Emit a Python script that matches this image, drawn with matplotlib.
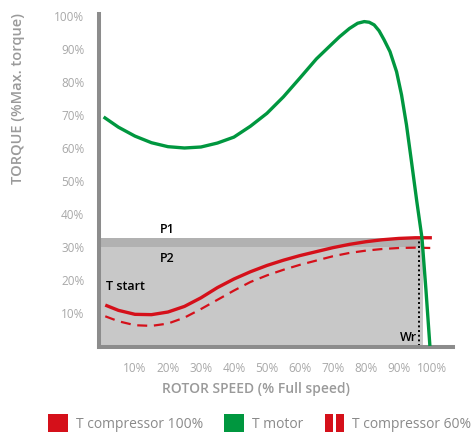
import numpy as np
import matplotlib.pyplot as plt
from matplotlib.patches import Rectangle

plt.rcParams['font.family'] = ['Open Sans', 'DejaVu Sans']

# Données (vitesse rotor en %, couple en % du max)
speed_c100 = [1, 5, 10, 15, 20, 25, 30, 35, 40, 45, 50, 55, 60, 65, 70, 75, 80, 85, 90, 95, 100]
torque_c100 = [12.4, 10.8, 9.6, 9.5, 10.3, 12.0, 14.6, 17.7, 20.3, 22.5, 24.4, 26.0,
               27.4, 28.6, 29.8, 30.8, 31.6, 32.2, 32.6, 32.8, 32.8]

speed_c60 = [1, 5, 10, 15, 20, 25, 30, 35, 40, 45, 50, 55, 60, 65, 70, 75, 80, 85, 90, 95, 99.5]
torque_c60 = [9.0, 7.5, 6.3, 6.1, 6.8, 8.6, 11.2, 14.0, 16.8, 19.4, 21.4, 23.1,
              24.6, 25.9, 27.2, 28.2, 28.9, 29.4, 29.7, 29.8, 29.7]

speed_motor = [0.5, 5, 10, 15, 20, 25, 30, 35, 40, 45, 50, 55, 60, 65, 70, 72, 75, 77.5,
               79.5, 81, 82.5, 84, 85.5, 87.3, 89.3, 90.8, 92.3, 93.8, 95.4, 97, 98.2, 99.4]
torque_motor = [69.4, 66.3, 63.6, 61.6, 60.4, 60.0, 60.3, 61.5, 63.3, 66.6, 70.5, 75.5,
                81.2, 87.0, 91.8, 93.7, 96.2, 97.8, 98.3, 98.1, 97.3, 95.5, 92.8, 89.2,
                83.1, 76.1, 67.0, 56.0, 44.0, 32.7, 17.0, 0.0]

p1 = 32.7   # haut de la bande P1
p2 = 30.0   # haut de la zone P2
wr = 96.0   # vitesse de fonctionnement
zone_end = 97.3

ticks = [10, 20, 30, 40, 50, 60, 70, 80, 90, 100]
tick_labels = [f"{t}%" for t in ticks]

RED = '#d5101a'
GREEN = '#00973f'
AXIS_GREY = '#8c8c8c'

fig = plt.figure(figsize=(4.72, 4.32), dpi=100)
ax = fig.add_axes([99 / 472, 1 - 347 / 432, 354 / 472, 333 / 432])
ax.set_xlim(-0.9, 106.4)
ax.set_ylim(-0.3, 100.6)

# zones grises
ax.fill_between([-1, zone_end], 0, p2, color='#c8c8c8', lw=0, zorder=1)
ax.fill_between([-1, zone_end], p2, p1, color='#b1b1b1', lw=0, zorder=1)

# courbes
ax.plot(speed_motor, torque_motor, color=GREEN, lw=2.4, zorder=4, solid_capstyle='butt')
ax.plot(speed_c100, torque_c100, color=RED, lw=2.4, zorder=3, solid_capstyle='butt')
ax.plot(speed_c60, torque_c60, color=RED, lw=1.6, ls=(0, (4.5, 3)), zorder=3)
ax.plot([wr, wr], [0, p1], color='black', lw=1.4, ls=(0, (1, 1.4)), zorder=2)

# annotations
ax.text(17.6, 35.2, "P1", fontsize=9, fontweight='semibold', va='center', ha='left')
ax.text(17.6, 26.4, "P2", fontsize=9, fontweight='semibold', va='center', ha='left')
ax.text(1.2, 17.9, "T start", fontsize=9, fontweight='semibold', va='center', ha='left')
ax.text(95.5, 2.6, "Wr", fontsize=9, fontweight='semibold', va='center', ha='right')

# axes
for s in ['top', 'right']:
    ax.spines[s].set_visible(False)
for s in ['left', 'bottom']:
    ax.spines[s].set_color(AXIS_GREY)
    ax.spines[s].set_linewidth(2.9)
ax.set_xticks(ticks)
ax.set_xticklabels(tick_labels)
ax.set_yticks(ticks)
ax.set_yticklabels(tick_labels)
ax.tick_params(axis='both', length=0, labelsize=8.5, labelcolor='#a8a8a8')
ax.tick_params(axis='y', pad=10.5)
ax.tick_params(axis='x', pad=11)

ax.set_xlabel("ROTOR SPEED (% Full speed)", fontsize=10, fontweight='semibold', color='#9a9a9a')
ax.xaxis.set_label_coords(0.4435, -0.105)
ax.set_ylabel("TORQUE (%Max. torque)", fontsize=10.5, fontweight='semibold', color='#9a9a9a', loc='top')
ax.yaxis.set_label_coords(-0.21, 1.003)

# légende
W, H = 472, 432
def box(x0, x1, color):
    fig.patches.append(Rectangle((x0 / W, 1 - 434 / H), (x1 - x0) / W, 20 / H,
                                 transform=fig.transFigure, color=color, lw=0))

box(48, 68, RED)
box(224, 244, GREEN)
box(325, 333, RED)
box(336, 344, RED)
for x, label in [(76, "T compressor 100%"), (252, "T motor"), (352, "T compressor 60%")]:
    fig.text(x / W, 1 - 424 / H, label, fontsize=10, color='#8a8a8a', va='center', ha='left')

fig.savefig("out.png", dpi=100)
